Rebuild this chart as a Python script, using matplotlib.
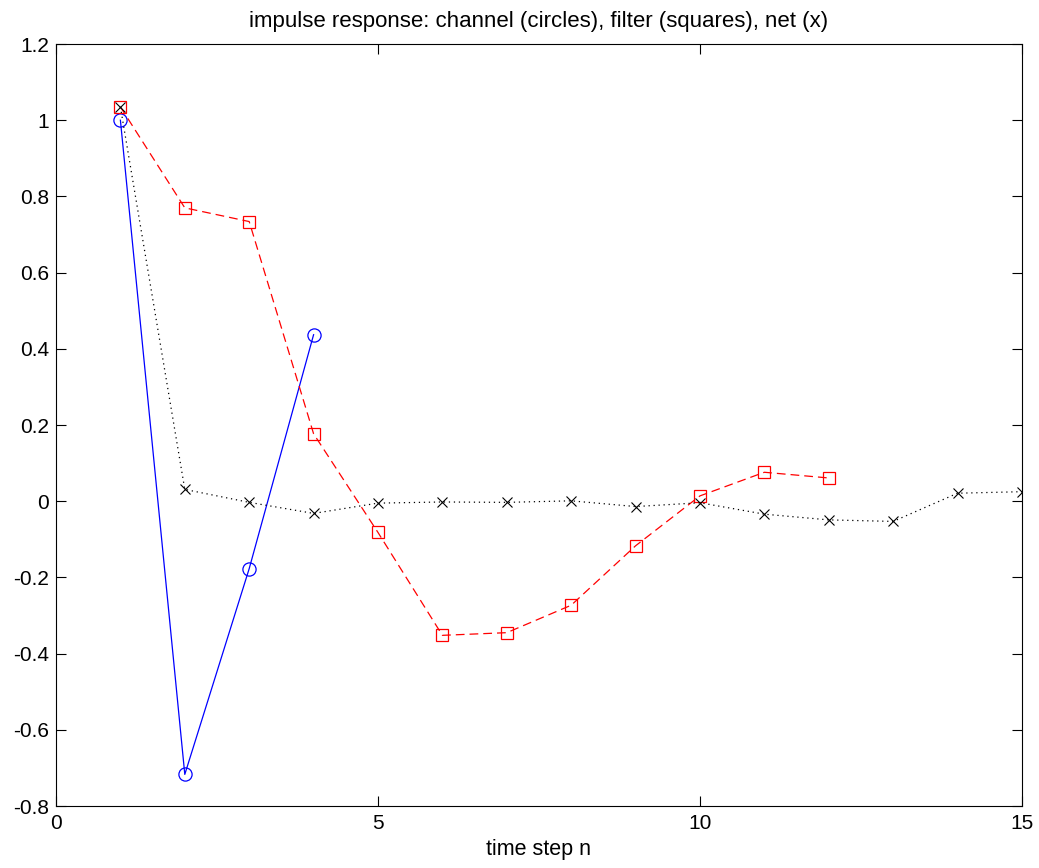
import numpy as np
import matplotlib
matplotlib.use("Agg")
import matplotlib.pyplot as plt

plt.rcParams['font.family'] = ['Liberation Sans', 'DejaVu Sans']

# values
n_channel = [1, 2, 3, 4]
channel = [1.0, -0.717, -0.177, 0.437]

n_filter = list(range(1, 13))
filt = [1.035, 0.770, 0.734, 0.177, -0.082, -0.352, -0.345, -0.273,
        -0.117, 0.014, 0.076, 0.061]

n_net = list(range(1, 16))
net = [1.035, 0.031, -0.003, -0.032, -0.005, -0.002, -0.003, 0.001,
       -0.014, -0.004, -0.034, -0.049, -0.053, 0.021, 0.025]

fig = plt.figure(figsize=(10.39, 8.68), dpi=100)
ax = fig.add_axes([0.0539, 0.0714, 0.9297, 0.8779])

ax.plot(n_channel, channel, color='b', linestyle='-', linewidth=0.9,
        marker='o', markersize=9.5, markerfacecolor='none', markeredgewidth=0.9)
ax.plot(n_filter, filt, color='r', linestyle=(0, (7, 4)), linewidth=0.9,
        marker='s', markersize=8, markerfacecolor='none', markeredgewidth=0.9)
ax.plot(n_net, net, color='k', linestyle=(0, (1, 3)), linewidth=0.9,
        marker='x', markersize=7.5, markeredgewidth=0.8)

ax.set_xlim(0, 15)
ax.set_ylim(-0.8, 1.2)
ax.set_xticks([0, 5, 10, 15])
ax.set_yticks(np.round(np.arange(-0.8, 1.21, 0.2), 1))
ax.set_yticklabels(['-0.8', '-0.6', '-0.4', '-0.2', '0', '0.2', '0.4',
                    '0.6', '0.8', '1', '1.2'])

ax.tick_params(direction='in', length=7, width=0.8, top=True, right=True,
               labelsize=15)
ax.tick_params(axis='x', pad=6)
ax.tick_params(axis='y', pad=5)
for s in ax.spines.values():
    s.set_linewidth(0.8)

ax.set_title('impulse response: channel (circles), filter (squares), net (x)',
             fontsize=16, pad=12)
ax.set_xlabel('time step n', fontsize=15.5, labelpad=4)

fig.savefig('out.png', dpi=100)
